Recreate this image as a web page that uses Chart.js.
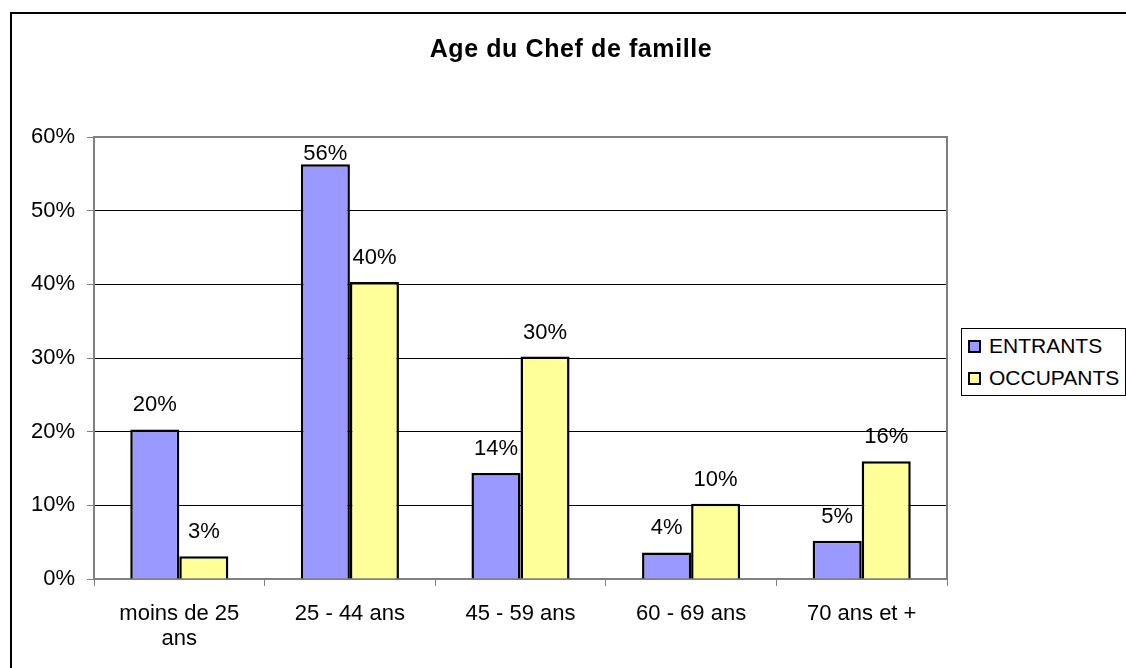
<!DOCTYPE html>
<html>
<head>
<meta charset="utf-8">
<script src="https://cdn.jsdelivr.net/npm/chart.js@4/dist/chart.umd.min.js"></script>
<style>
  body { margin: 0; background: #fff; font-family: "Liberation Sans", Arial, sans-serif; }
  #wrap { position: relative; width: 1126px; height: 668px; overflow: hidden; }
  #frame { position: absolute; left: 10px; top: 12px; width: 1200px; height: 800px;
           border-left: 2px solid #000; border-top: 2px solid #000; }
  #title { position: absolute; left: 571px; top: 34px; transform: translateX(-50%);
           font-weight: bold; font-size: 25px; line-height: 28px; letter-spacing: 0.6px; white-space: nowrap; }
  #chart { position: absolute; left: 0; top: 0; }
  #legend { position: absolute; left: 961px; top: 328px; width: 163px; height: 64px;
            padding: 1px 0; border: 1px solid #000; background: #fff; }
  .row { display: flex; align-items: center; height: 32px; font-size: 21px; white-space: nowrap; }
  .sw { width: 9px; height: 9px; border: 2px solid #000; margin-left: 6px; margin-right: 8px; }
</style>
</head>
<body>
<div id="wrap">
  <div id="frame"></div>
  <canvas id="chart" width="1126" height="668"></canvas>
  <div id="title"></div>
  <div id="legend"></div>
</div>
<script>
const chartTitle = 'Age du Chef de famille';
const categories = [['moins de 25', 'ans'], '25 - 44 ans', '45 - 59 ans', '60 - 69 ans', '70 ans et +'];
const seriesNames = ['ENTRANTS', 'OCCUPANTS'];
const entrants = [20.3, 56.3, 14.4, 3.6, 5.2];
const occupants = [3.1, 40.3, 30.2, 10.2, 16.0];
const seriesColors = ['#9999FF', '#FFFF99'];
const yTicks = [0, 10, 20, 30, 40, 50, 60];

const FONT = '"Liberation Sans", Arial, sans-serif';
const GRAY = '#808080';

document.getElementById('title').textContent = chartTitle;

// plot area border (gray frame like the original)
const plotFrame = {
    id: 'plotFrame',
    beforeDatasetsDraw(chart) {
        const a = chart.chartArea, ctx = chart.ctx;
        ctx.save();
        ctx.strokeStyle = GRAY;
        ctx.lineWidth = 2;
        ctx.strokeRect(a.left, a.top, a.right - a.left, a.bottom - a.top);
        ctx.restore();
    }
};

// value labels above bars
const valueLabels = {
    id: 'valueLabels',
    afterDatasetsDraw(chart) {
        const ctx = chart.ctx, a = chart.chartArea;
        ctx.save();
        ctx.font = '22px ' + FONT;
        ctx.fillStyle = '#000';
        ctx.textAlign = 'center';
        ctx.textBaseline = 'alphabetic';
        chart.data.datasets.forEach((ds, i) => {
            chart.getDatasetMeta(i).data.forEach((bar, j) => {
                const y = Math.max(bar.y - 18, a.top + 23);
                ctx.fillText(Math.round(ds.data[j]) + '%', bar.x, y);
            });
        });
        ctx.restore();
    }
};

const ctx = document.getElementById('chart').getContext('2d');
const chart = new Chart(ctx, {
    type: 'bar',
    data: {
        labels: categories,
        datasets: [{
            label: seriesNames[0],
            data: entrants,
            backgroundColor: seriesColors[0],
            borderColor: '#000',
            borderWidth: 2.5
        }, {
            label: seriesNames[1],
            data: occupants,
            backgroundColor: seriesColors[1],
            borderColor: '#000',
            borderWidth: 2.5
        }]
    },
    options: {
        responsive: false,
        animation: false,
        devicePixelRatio: 1,
        layout: { padding: { top: 137, right: 179, left: 0, bottom: 0 } },
        datasets: { bar: { barPercentage: 1, categoryPercentage: 0.575 } },
        plugins: {
            legend: { display: false },
            title: { display: false },
            tooltip: { enabled: false }
        },
        scales: {
            x: {
                offset: true,
                afterFit(scale) { scale.height = 89; },
                grid: { offset: true, drawOnChartArea: false, tickLength: 7, tickColor: GRAY, lineWidth: 1 },
                border: { color: GRAY, width: 2 },
                ticks: { color: '#000', padding: 15, maxRotation: 0, autoSkip: false,
                         font: { family: FONT, size: 22, lineHeight: 1.15 } }
            },
            y: {
                min: 0,
                max: 60,
                afterFit(scale) { scale.width = 94; },
                afterBuildTicks(scale) { scale.ticks = yTicks.map(v => ({ value: v })); },
                grid: { color: '#000', lineWidth: 1, tickLength: 7, tickColor: GRAY },
                border: { color: GRAY, width: 2 },
                ticks: { color: '#000', padding: 12, callback: v => v + '%',
                         font: { family: FONT, size: 22 } }
            }
        }
    },
    plugins: [plotFrame, valueLabels]
});

// legend built from the series arrays
const legend = document.getElementById('legend');
seriesNames.forEach((name, i) => {
    const row = document.createElement('div');
    row.className = 'row';
    const sw = document.createElement('span');
    sw.className = 'sw';
    sw.style.background = seriesColors[i];
    const txt = document.createElement('span');
    txt.textContent = name;
    row.appendChild(sw);
    row.appendChild(txt);
    legend.appendChild(row);
});
</script>
</body>
</html>
